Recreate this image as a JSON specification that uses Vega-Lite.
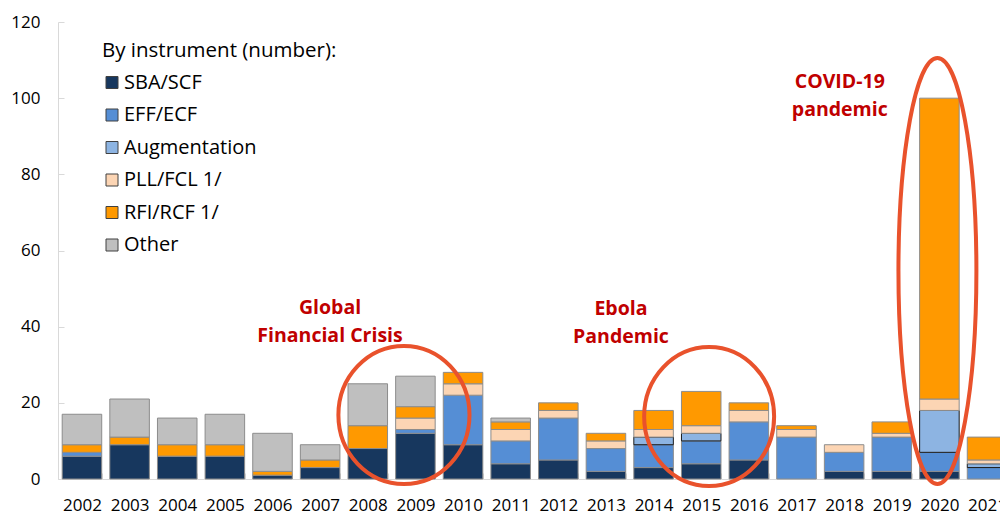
{
  "$schema": "https://vega.github.io/schema/vega-lite/v6.json",
  "width": 942,
  "height": 457,
  "autosize": {"type": "none"},
  "padding": {"left": 58, "top": 22, "right": 0, "bottom": 37},
  "background": "white",
  "config": {"view": {"stroke": null}, "font": "Open Sans", "axis": {"grid": false}},
  "datasets": {
    "bars": [
      {"year": "2002", "instrument": "SBA/SCF", "n": 6},
      {"year": "2002", "instrument": "EFF/ECF", "n": 1},
      {"year": "2002", "instrument": "RFI/RCF 1/", "n": 2},
      {"year": "2002", "instrument": "Other", "n": 8},
      {"year": "2003", "instrument": "SBA/SCF", "n": 9},
      {"year": "2003", "instrument": "RFI/RCF 1/", "n": 2},
      {"year": "2003", "instrument": "Other", "n": 10},
      {"year": "2004", "instrument": "SBA/SCF", "n": 6},
      {"year": "2004", "instrument": "RFI/RCF 1/", "n": 3},
      {"year": "2004", "instrument": "Other", "n": 7},
      {"year": "2005", "instrument": "SBA/SCF", "n": 6},
      {"year": "2005", "instrument": "RFI/RCF 1/", "n": 3},
      {"year": "2005", "instrument": "Other", "n": 8},
      {"year": "2006", "instrument": "SBA/SCF", "n": 1},
      {"year": "2006", "instrument": "RFI/RCF 1/", "n": 1},
      {"year": "2006", "instrument": "Other", "n": 10},
      {"year": "2007", "instrument": "SBA/SCF", "n": 3},
      {"year": "2007", "instrument": "RFI/RCF 1/", "n": 2},
      {"year": "2007", "instrument": "Other", "n": 4},
      {"year": "2008", "instrument": "SBA/SCF", "n": 8},
      {"year": "2008", "instrument": "RFI/RCF 1/", "n": 6},
      {"year": "2008", "instrument": "Other", "n": 11},
      {"year": "2009", "instrument": "SBA/SCF", "n": 12},
      {"year": "2009", "instrument": "EFF/ECF", "n": 1},
      {"year": "2009", "instrument": "PLL/FCL 1/", "n": 3},
      {"year": "2009", "instrument": "RFI/RCF 1/", "n": 3},
      {"year": "2009", "instrument": "Other", "n": 8},
      {"year": "2010", "instrument": "SBA/SCF", "n": 9},
      {"year": "2010", "instrument": "EFF/ECF", "n": 13},
      {"year": "2010", "instrument": "PLL/FCL 1/", "n": 3},
      {"year": "2010", "instrument": "RFI/RCF 1/", "n": 3},
      {"year": "2011", "instrument": "SBA/SCF", "n": 4},
      {"year": "2011", "instrument": "EFF/ECF", "n": 6},
      {"year": "2011", "instrument": "PLL/FCL 1/", "n": 3},
      {"year": "2011", "instrument": "RFI/RCF 1/", "n": 2},
      {"year": "2011", "instrument": "Other", "n": 1},
      {"year": "2012", "instrument": "SBA/SCF", "n": 5},
      {"year": "2012", "instrument": "EFF/ECF", "n": 11},
      {"year": "2012", "instrument": "PLL/FCL 1/", "n": 2},
      {"year": "2012", "instrument": "RFI/RCF 1/", "n": 2},
      {"year": "2013", "instrument": "SBA/SCF", "n": 2},
      {"year": "2013", "instrument": "EFF/ECF", "n": 6},
      {"year": "2013", "instrument": "PLL/FCL 1/", "n": 2},
      {"year": "2013", "instrument": "RFI/RCF 1/", "n": 2},
      {"year": "2014", "instrument": "SBA/SCF", "n": 3},
      {"year": "2014", "instrument": "EFF/ECF", "n": 6},
      {"year": "2014", "instrument": "Augmentation", "n": 2},
      {"year": "2014", "instrument": "PLL/FCL 1/", "n": 2},
      {"year": "2014", "instrument": "RFI/RCF 1/", "n": 5},
      {"year": "2015", "instrument": "SBA/SCF", "n": 4},
      {"year": "2015", "instrument": "EFF/ECF", "n": 6},
      {"year": "2015", "instrument": "Augmentation", "n": 2},
      {"year": "2015", "instrument": "PLL/FCL 1/", "n": 2},
      {"year": "2015", "instrument": "RFI/RCF 1/", "n": 9},
      {"year": "2016", "instrument": "SBA/SCF", "n": 5},
      {"year": "2016", "instrument": "EFF/ECF", "n": 10},
      {"year": "2016", "instrument": "PLL/FCL 1/", "n": 3},
      {"year": "2016", "instrument": "RFI/RCF 1/", "n": 2},
      {"year": "2017", "instrument": "EFF/ECF", "n": 11},
      {"year": "2017", "instrument": "PLL/FCL 1/", "n": 2},
      {"year": "2017", "instrument": "RFI/RCF 1/", "n": 1},
      {"year": "2018", "instrument": "SBA/SCF", "n": 2},
      {"year": "2018", "instrument": "EFF/ECF", "n": 5},
      {"year": "2018", "instrument": "PLL/FCL 1/", "n": 2},
      {"year": "2019", "instrument": "SBA/SCF", "n": 2},
      {"year": "2019", "instrument": "EFF/ECF", "n": 9},
      {"year": "2019", "instrument": "PLL/FCL 1/", "n": 1},
      {"year": "2019", "instrument": "RFI/RCF 1/", "n": 3},
      {"year": "2020", "instrument": "SBA/SCF", "n": 2},
      {"year": "2020", "instrument": "EFF/ECF", "n": 5},
      {"year": "2020", "instrument": "Augmentation", "n": 11},
      {"year": "2020", "instrument": "PLL/FCL 1/", "n": 3},
      {"year": "2020", "instrument": "RFI/RCF 1/", "n": 79},
      {"year": "2021", "instrument": "EFF/ECF", "n": 3},
      {"year": "2021", "instrument": "Augmentation", "n": 1},
      {"year": "2021", "instrument": "PLL/FCL 1/", "n": 1},
      {"year": "2021", "instrument": "RFI/RCF 1/", "n": 6}
    ],
    "ellipses": [
      {"event": "GFC", "year": "2009", "n": 16.8},
      {"event": "Ebola", "year": "2015", "n": 16.4},
      {"event": "COVID", "year": "2020", "n": 54.6}
    ],
    "notes": [
      {"event": "GFC", "year": "2007", "n": 44.9, "label": "Global\nFinancial Crisis"},
      {"event": "Ebola", "year": "2013", "n": 44.6, "label": "Ebola\nPandemic"},
      {"event": "COVID", "year": "2018", "n": 104.2, "label": "COVID-19\npandemic"}
    ]
  },
  "layer": [
    {
      "data": {"name": "bars"},
      "transform": [{"calculate": "indexof(['SBA/SCF', 'EFF/ECF', 'Augmentation', 'PLL/FCL 1/', 'RFI/RCF 1/', 'Other'], datum.instrument)", "as": "k"}],
      "mark": {"type": "bar", "strokeWidth": 1},
      "encoding": {
        "x": {
          "field": "year", "type": "nominal",
          "scale": {"range": [0, 953], "paddingInner": 0.17, "paddingOuter": 0.088},
          "axis": {"title": null, "tickBand": "extent", "domainColor": "#d9d9d9", "tickColor": "#d9d9d9", "tickSize": -6, "labelPadding": 24, "labelAngle": 0, "labelFontSize": 17, "labelColor": "#000", "labelFont": "Open Sans"}
        },
        "y": {
          "field": "n", "type": "quantitative", "stack": "zero",
          "scale": {"domain": [0, 120]},
          "axis": {"title": null, "values": [0, 20, 40, 60, 80, 100, 120], "domainColor": "#d9d9d9", "tickColor": "#d9d9d9", "tickSize": -6, "labelPadding": 24, "labelFontSize": 17, "labelColor": "#000", "labelFont": "Open Sans"}
        },
        "order": {"field": "k", "type": "quantitative"},
        "color": {
          "field": "instrument", "type": "nominal",
          "sort": ["SBA/SCF", "EFF/ECF", "Augmentation", "PLL/FCL 1/", "RFI/RCF 1/", "Other"],
          "scale": {"domain": ["SBA/SCF", "EFF/ECF", "Augmentation", "PLL/FCL 1/", "RFI/RCF 1/", "Other"], "range": ["#17375e", "#558ed5", "#8db4e2", "#fcd5b4", "#ff9900", "#bfbfbf"]},
          "legend": {"title": "By instrument (number):", "orient": "none", "legendX": 44, "legendY": 19, "titleFontSize": 20.5, "titleFontWeight": "normal", "titleColor": "#000", "titleFont": "Open Sans", "titleLimit": 500, "labelLimit": 400, "labelFontSize": 20, "labelColor": "#000", "labelFont": "Open Sans", "symbolType": "square", "symbolSize": 144, "symbolStrokeColor": "#404040", "symbolStrokeWidth": 1, "symbolOpacity": 1, "rowPadding": 12.5, "titlePadding": 11, "labelOffset": 2}
        },
        "stroke": {"condition": {"test": "datum.instrument === 'Augmentation'", "value": "#1a1a1a"}, "value": "#8c8c8c"}
      }
    },
    {
      "data": {"name": "ellipses"},
      "transform": [{"filter": "datum.event === 'GFC'"}],
      "mark": {"type": "point", "shape": "M -0.95 0 A 0.95 1 0 1 0 0.95 0 A 0.95 1 0 1 0 -0.95 0 Z", "size": 19044, "filled": false, "color": "#e9522c", "strokeWidth": 4, "opacity": 1},
      "encoding": {"x": {"field": "year", "type": "nominal", "bandPosition": 0.21}, "y": {"field": "n", "type": "quantitative"}}
    },
    {
      "data": {"name": "ellipses"},
      "transform": [{"filter": "datum.event === 'Ebola'"}],
      "mark": {"type": "point", "shape": "M -0.935 0 A 0.935 1 0 1 0 0.935 0 A 0.935 1 0 1 0 -0.935 0 Z", "size": 19321, "filled": false, "color": "#e9522c", "strokeWidth": 4, "opacity": 1},
      "encoding": {"x": {"field": "year", "type": "nominal", "bandPosition": 0.7}, "y": {"field": "n", "type": "quantitative"}}
    },
    {
      "data": {"name": "ellipses"},
      "transform": [{"filter": "datum.event === 'COVID'"}],
      "mark": {"type": "point", "shape": "M -0.183 0 A 0.183 1 0 1 0 0.183 0 A 0.183 1 0 1 0 -0.183 0 Z", "size": 181476, "filled": false, "color": "#e9522c", "strokeWidth": 4, "opacity": 1},
      "encoding": {"x": {"field": "year", "type": "nominal", "bandPosition": 0.45}, "y": {"field": "n", "type": "quantitative"}}
    },
    {
      "data": {"name": "notes"},
      "transform": [{"filter": "datum.event === 'GFC'"}],
      "mark": {"type": "text", "lineBreak": "\n", "fontSize": 19.5, "fontWeight": "bold", "color": "#c00000", "lineHeight": 28, "align": "center", "baseline": "middle", "font": "Open Sans"},
      "encoding": {"x": {"field": "year", "type": "nominal", "bandPosition": 0.75}, "y": {"field": "n", "type": "quantitative"}, "text": {"field": "label"}}
    },
    {
      "data": {"name": "notes"},
      "transform": [{"filter": "datum.event === 'Ebola'"}],
      "mark": {"type": "text", "lineBreak": "\n", "fontSize": 19.5, "fontWeight": "bold", "color": "#c00000", "lineHeight": 28, "align": "center", "baseline": "middle", "font": "Open Sans"},
      "encoding": {"x": {"field": "year", "type": "nominal", "bandPosition": 0.88}, "y": {"field": "n", "type": "quantitative"}, "text": {"field": "label"}}
    },
    {
      "data": {"name": "notes"},
      "transform": [{"filter": "datum.event === 'COVID'"}],
      "mark": {"type": "text", "lineBreak": "\n", "fontSize": 19.5, "fontWeight": "bold", "color": "#c00000", "lineHeight": 28, "align": "center", "baseline": "middle", "font": "Open Sans"},
      "encoding": {"x": {"field": "year", "type": "nominal", "bandPosition": 0.39}, "y": {"field": "n", "type": "quantitative"}, "text": {"field": "label"}}
    }
  ]
}
